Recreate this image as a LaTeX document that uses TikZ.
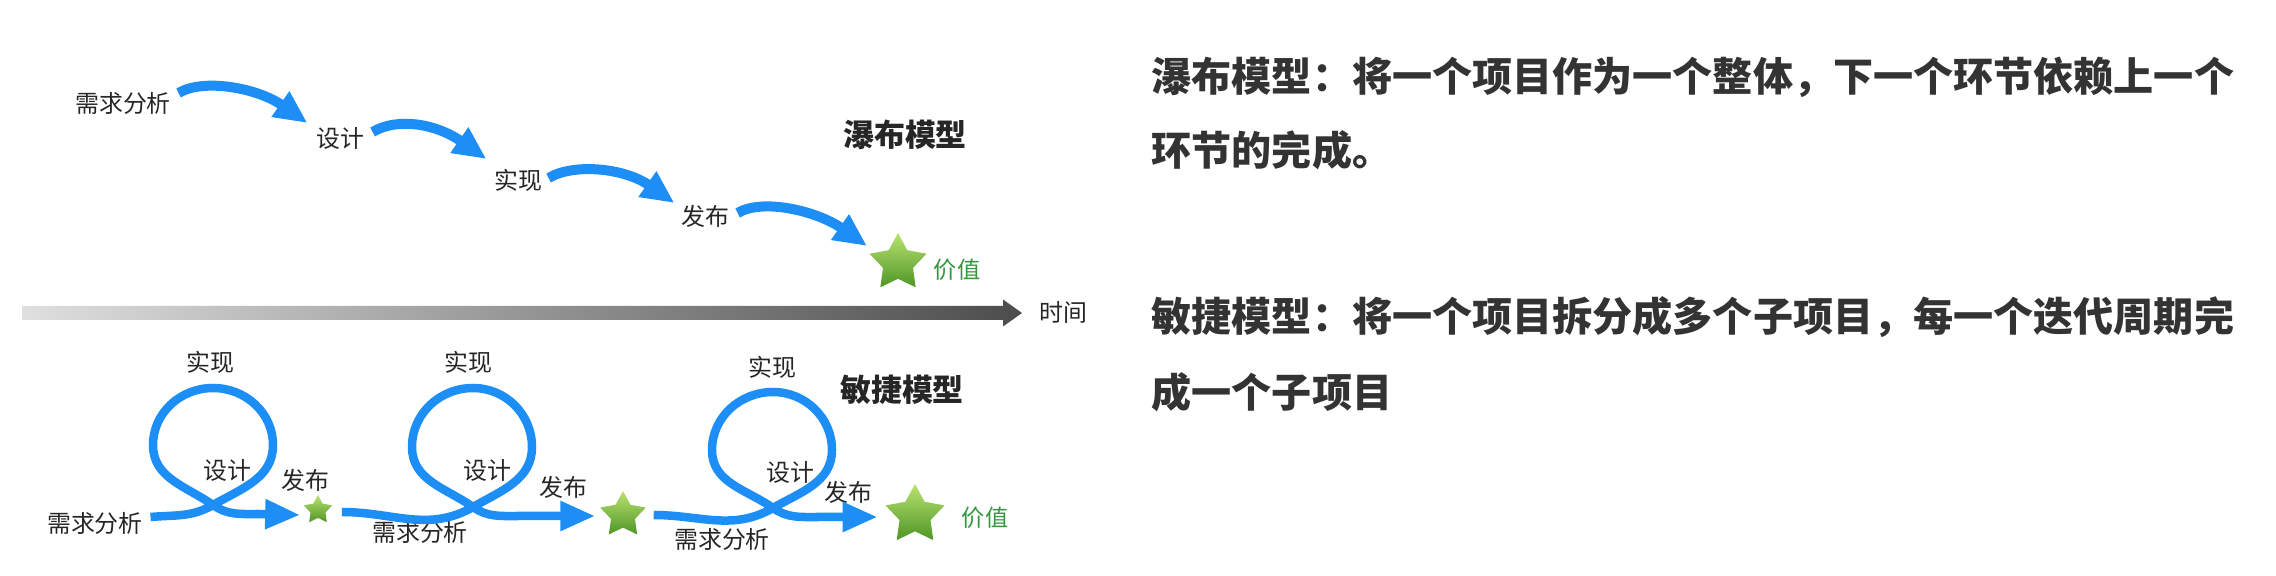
\documentclass[tikz,border=0pt]{standalone}
\usepackage{fontspec}
\setmainfont{Noto Sans CJK SC}
\usetikzlibrary{arrows.meta,shapes.geometric}
\definecolor{flowblue}{RGB}{28,142,246}
\definecolor{valgreen}{RGB}{52,150,62}
\definecolor{textgray}{RGB}{51,51,51}
\definecolor{starlight}{RGB}{186,226,112}
\definecolor{stardark}{RGB}{78,150,38}

\begin{document}
\begin{tikzpicture}[
    x=0.01cm, y=0.01cm,
    lbl/.style={inner sep=0pt, font=\fontsize{6.8}{8}\selectfont, text=black!85},
    model/.style={inner sep=0pt, font=\fontsize{8.8}{10}\selectfont\bfseries, text=black!85},
    val/.style={inner sep=0pt, font=\fontsize{6.6}{8}\selectfont, text=valgreen},
    desc/.style={inner sep=0pt, anchor=west, font=\fontsize{11.4}{14}\selectfont\bfseries, text=textgray},
    gstar/.style={star, star points=5, star point ratio=1.9, inner sep=0pt, top color=starlight, bottom color=stardark},
    flow/.style={-{Triangle[length=0.33cm, width=0.29cm]}, line width=0.1cm, draw=flowblue},
    loopy/.style={-{Triangle[length=0.35cm, width=0.28cm]}, line width=0.085cm, draw=flowblue},
    axisbar/.style={left color=gray!25, right color=black!70}
]
\useasboundingbox (0,0) rectangle (2276,576);

% waterfall
\node[lbl] (wreq) at (123,473) {需求分析};
\node[lbl] (wdes) at (340,438) {设计};
\node[lbl] (wimp) at (518,396) {实现};
\node[lbl] (wrel) at (705,360) {发布};
\node[gstar, minimum size=0.6cm] (wstar) at (898,313) {};
\node[val] (wval) at (957,306) {价值};
\node[model] (wmodel) at (905,441) {瀑布模型};

\draw[flow] ([shift={(7,10)}]wreq.east) .. controls +(25,15) and +(-50,35) .. ([shift={(-8,15)}]wdes.west);
\draw[flow] ([shift={(8,6)}]wdes.east) .. controls +(25,15) and +(-50,35) .. ([shift={(-7,21)}]wimp.west);
\draw[flow] ([shift={(6,2)}]wimp.east) .. controls +(25,15) and +(-50,35) .. ([shift={(-6,13)}]wrel.west);
\draw[flow] ([shift={(8,3)}]wrel.east) .. controls +(25,15) and +(-50,35) .. ([shift={(-31,17)}]wstar.center);

% time axis
\coordinate (t0) at (22,263);
\coordinate (t1) at (1022,263);
\shade[axisbar] (t0) ++(0,7) -- ++(981,0) -- ++(0,6.5) -- (t1) -- ++(-19,-13.5) -- ++(0,6.5) -- ++(-981,0) -- cycle;
\node[lbl] (time) at (1063,264) {时间};

% agile
\node[model] (amodel) at (902,186) {敏捷模型};

\node[lbl] (aimp1) at (210,214) {实现};
\node[lbl] (ades1) at (227,106) {设计};
\node[lbl] (arel1) at (305,96) {发布};
\node[gstar, minimum size=0.3cm] (astar1) at (318,66) {};
\node[lbl] (areq1) at (95,53) {需求分析};
\coordinate (x1) at (213,71);
\draw[loopy] ([shift={(7,6)}]areq1.east) to[out=5,in=210] (x1) to[out=30,in=-90] ++(60,60) to[out=90,in=0] ++(-60,57) to[out=180,in=90] ++(-60,-57) to[out=-90,in=145] (x1) to[out=-35,in=180] ++(45,-9) -- ([shift={(-7,-5)}]astar1.west);

\node[lbl] (aimp2) at (468,214) {实现};
\node[lbl] (ades2) at (487,106) {设计};
\node[lbl] (arel2) at (563,89) {发布};
\node[gstar, minimum size=0.48cm] (astar2) at (623,61) {};
\node[lbl] (areq2) at (420,44) {需求分析};
\coordinate (x2) at (473,69);
\draw[loopy] ([shift={(13,-2)}]astar1.east) to[out=0,in=210] (x2) to[out=30,in=-90] ++(59,60) to[out=90,in=0] ++(-59,59) to[out=180,in=90] ++(-61,-59) to[out=-90,in=145] (x2) to[out=-35,in=180] ++(45,-9) -- ([shift={(-11,-1)}]astar2.west);

\node[lbl] (aimp3) at (772,209) {实现};
\node[lbl] (ades3) at (790,104) {设计};
\node[lbl] (arel3) at (848,84) {发布};
\node[gstar, minimum size=0.62cm] (astar3) at (915,61) {};
\node[val] (aval) at (985,58) {价值};
\node[lbl] (areq3) at (722,37) {需求分析};
\coordinate (x3) at (773,68);
\draw[loopy] ([shift={(14,0)}]astar2.east) to[out=0,in=210] (x3) to[out=30,in=-90] ++(59,58) to[out=90,in=0] ++(-59,58) to[out=180,in=90] ++(-61,-58) to[out=-90,in=145] (x3) to[out=-35,in=180] ++(45,-9) -- ([shift={(-16,-2)}]astar3.west);

% descriptions
\node[desc] (d1) at (1151,498.5) {瀑布模型：将一个项目作为一个整体，下一个环节依赖上一个};
\node[desc] (d2) at (1151,426) {环节的完成。};
\node[desc] (d3) at (1151,259) {敏捷模型：将一个项目拆分成多个子项目，每一个迭代周期完};
\node[desc] (d4) at (1151,184) {成一个子项目};
\end{tikzpicture}
\end{document}
